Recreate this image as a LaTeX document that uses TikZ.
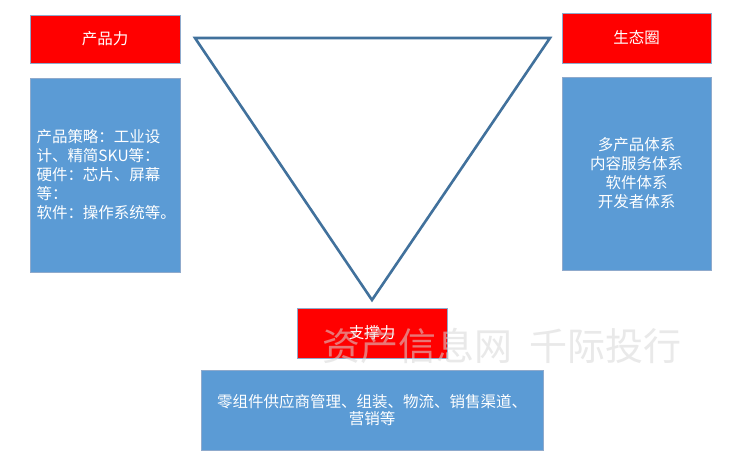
\documentclass[tikz,border=0pt]{standalone}
\usepackage{fontspec}
\newfontfamily\cjk{Noto Sans CJK SC}
\definecolor{redbox}{RGB}{255,0,0}
\definecolor{bluebox}{RGB}{91,155,213}
\definecolor{boxedge}{RGB}{143,170,204}
\definecolor{triedge}{RGB}{65,113,156}
\definecolor{wmark}{RGB}{215,215,215}
\begin{document}
\begin{tikzpicture}[x=1pt,y=-1pt,
  box/.style={draw=boxedge,line width=0.6pt,inner sep=0pt,text=white,font=\cjk\fontsize{15.5}{19}\selectfont},
  redlabel/.style={box,fill=redbox},
  bluepanel/.style={box,fill=bluebox}]
\useasboundingbox[fill=white] (0,0) rectangle (729,456);
% triangle
\coordinate (tl) at (195,38);
\coordinate (tr) at (550,38);
\coordinate (bt) at (372,300);
\draw[triedge,line width=2.6pt,line join=miter] (tl) -- (tr) -- (bt) -- cycle;
% left
\node[redlabel,minimum width=150,minimum height=48] (prod) at (105,39) {产品力};
\node[bluepanel,minimum width=150,minimum height=194,text width=137,align=left,inner xsep=6pt] (prodtxt) at (105,175)
 {产品策略：工业设\\计、精简SKU等：\\硬件：芯片、屏幕\\等：\\软件：操作系统等。};
% right
\node[redlabel,minimum width=149,minimum height=50] (eco) at (636.5,38) {生态圈};
\node[bluepanel,minimum width=149,minimum height=193,align=center] (ecotxt) at (636.5,173.5)
 {多产品体系\\内容服务体系\\软件体系\\开发者体系};
% bottom
\node[redlabel,minimum width=150,minimum height=50] (sup) at (372,333) {支撑力};
\node[bluepanel,minimum width=342,minimum height=80,align=center,font=\cjk\fontsize{15.5}{17}\selectfont] (suptxt) at (372,410)
 {零组件供应商管理、组装、物流、销售渠道、\\营销等};
% watermark
\node[text=wmark,opacity=0.55,font=\cjk\fontsize{38}{38}\selectfont,inner sep=0pt,anchor=west] (wm) at (322,346) {资产信息网\hspace{17pt}千际投行};
\end{tikzpicture}
\end{document}
